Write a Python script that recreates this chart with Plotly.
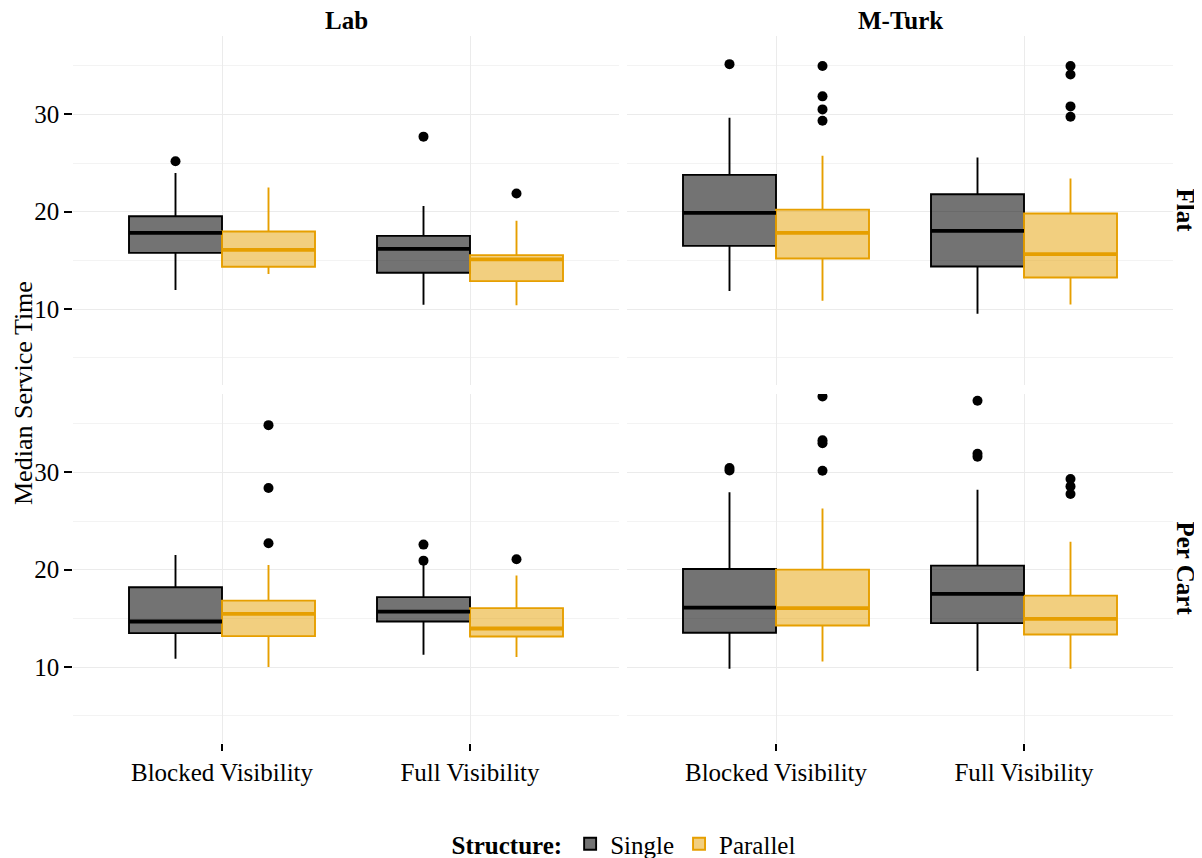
import plotly.graph_objects as go

# ---------------- data ----------------
sources = ["Lab", "M-Turk"]
layouts = ["Flat", "Per Cart"]
visibility = ["Blocked Visibility", "Full Visibility"]
groups = ["Single", "Parallel"]

# order of the 16 boxes: for each panel (Lab-Flat, M-Turk-Flat, Lab-Per Cart, M-Turk-Per Cart)
# -> Blocked/Single, Blocked/Parallel, Full/Single, Full/Parallel
box_source = ["Lab"] * 4 + ["M-Turk"] * 4 + ["Lab"] * 4 + ["M-Turk"] * 4
box_layout = ["Flat"] * 8 + ["Per Cart"] * 8
box_vis = ["Blocked Visibility", "Blocked Visibility", "Full Visibility", "Full Visibility"] * 4
box_group = ["Single", "Parallel"] * 8

lower_fence = [11.95, 13.59, 10.44, 10.38,
               11.85, 10.85, 9.52, 10.48,
               10.85, 10.00, 11.26, 11.03,
               9.83, 10.58, 9.59, 9.83]
q1 = [15.77, 14.34, 13.73, 12.87,
      16.49, 15.20, 14.38, 13.25,
      13.49, 13.18, 14.68, 13.14,
      13.52, 14.27, 14.51, 13.34]
median = [17.83, 16.08, 16.18, 15.10,
          19.88, 17.83, 18.03, 15.64,
          14.68, 15.47, 15.70, 13.96,
          16.11, 16.05, 17.52, 14.95]
q3 = [19.54, 17.97, 17.52, 15.54,
      23.78, 20.22, 21.79, 19.81,
      18.20, 16.83, 17.18, 16.05,
      20.08, 20.01, 20.42, 17.34]
upper_fence = [23.98, 22.48, 20.60, 19.06,
               29.66, 25.76, 25.56, 23.40,
               21.51, 20.49, 20.50, 19.40,
               27.95, 26.30, 28.22, 22.88]
outliers = [[25.18], [], [27.71], [21.87],
            [35.16], [29.35, 30.51, 31.85, 34.96], [], [29.76, 30.82, 34.10, 34.96],
            [], [22.72, 28.39, 34.85], [20.93, 22.58], [21.08],
            [30.20, 30.45], [30.17, 33.00, 33.30, 37.80], [31.60, 31.90, 37.35], [27.77, 28.56, 29.31]]

y_ticks = [10, 20, 30]
y_minor = [5, 15, 25, 35]

# ---------------- styling ----------------
FONT = "Liberation Serif"
FS = 25
line_col = {"Single": "#000000", "Parallel": "#E69F00"}
fill_col = {"Single": "rgba(0,0,0,0.55)", "Parallel": "rgba(230,159,0,0.5)"}
dodge = {"Single": -0.1875, "Parallel": 0.1875}
box_w = 0.375

# the page body has an 8px margin, so the figure is drawn 8px in from the window corner
OFF = 8
W, H = 1202 - OFF, 858 - OFF
def px_x(p):
    return (p - OFF) / W
def px_y(p):
    return 1 - (p - OFF) / H

col_dom = [[px_x(73.2), px_x(618.8)], [px_x(627.2), px_x(1172.8)]]
row_dom = [[px_y(385), px_y(36)], [px_y(743), px_y(394)]]

fig = go.Figure()

def axis_suffix(r, c):
    n = r * 2 + c + 1
    return "" if n == 1 else str(n)

legend_done = set()
for r, lay in enumerate(layouts):
    for c, src in enumerate(sources):
        suf = axis_suffix(r, c)
        for g in groups:
            idx = [i for i in range(16) if box_source[i] == src and box_layout[i] == lay and box_group[i] == g]
            xs = [visibility.index(box_vis[i]) + dodge[g] for i in idx]
            show = g not in legend_done
            legend_done.add(g)
            fig.add_trace(go.Box(
                x=xs,
                q1=[q1[i] for i in idx],
                median=[median[i] for i in idx],
                q3=[q3[i] for i in idx],
                lowerfence=[lower_fence[i] for i in idx],
                upperfence=[upper_fence[i] for i in idx],
                width=box_w, whiskerwidth=0,
                fillcolor=fill_col[g],
                line=dict(color=line_col[g], width=1.9),
                boxpoints=False,
                name=g, legendgroup=g, showlegend=show,
                xaxis="x" + suf, yaxis="y" + suf,
                hoverinfo="skip",
            ))
            # thicker median lines
            mx, my = [], []
            for i, x0 in zip(idx, xs):
                mx += [x0 - box_w / 2, x0 + box_w / 2, None]
                my += [median[i], median[i], None]
            fig.add_trace(go.Scatter(
                x=mx, y=my, mode="lines",
                line=dict(color=line_col[g], width=3.8),
                showlegend=False, legendgroup=g,
                xaxis="x" + suf, yaxis="y" + suf, hoverinfo="skip",
            ))
            # outliers
            ox, oy = [], []
            for i, x0 in zip(idx, xs):
                for v in outliers[i]:
                    ox.append(x0)
                    oy.append(v)
            if ox:
                fig.add_trace(go.Scatter(
                    x=ox, y=oy, mode="markers",
                    marker=dict(color="black", size=10, line=dict(width=0)),
                    showlegend=False, legendgroup=g,
                    xaxis="x" + suf, yaxis="y" + suf, hoverinfo="skip",
                ))

tickfont = dict(family=FONT, size=FS, color="black")
for r in range(2):
    for c in range(2):
        suf = axis_suffix(r, c)
        fig.layout["xaxis" + suf] = dict(
            domain=col_dom[c], anchor="y" + suf, automargin=False,
            range=[-0.6, 1.6], tickvals=[0, 1], ticktext=visibility,
            showgrid=True, gridcolor="#EBEBEB", gridwidth=1, zeroline=False,
            showline=False,
            ticks="outside" if r == 1 else "", ticklen=7, tickwidth=2, tickcolor="black",
            showticklabels=(r == 1), tickfont=tickfont,
        )
        fig.layout["yaxis" + suf] = dict(
            domain=row_dom[r], anchor="x" + suf, automargin=False,
            range=[2.2, 38.05], tickvals=y_ticks,
            showgrid=True, gridcolor="#EBEBEB", gridwidth=1, zeroline=False,
            showline=False,
            minor=dict(tickvals=y_minor, showgrid=True, gridcolor="#F3F3F3", gridwidth=1),
            ticks="outside" if c == 0 else "", ticklen=8, tickwidth=2, tickcolor="black",
            showticklabels=(c == 0), tickfont=tickfont,
        )

ann = []
for c, src in enumerate(sources):
    ann.append(dict(text="<b>%s</b>" % src, x=(col_dom[c][0] + col_dom[c][1]) / 2, y=px_y(20),
                    xref="paper", yref="paper", showarrow=False, xanchor="center", yanchor="middle",
                    font=dict(family=FONT, size=FS, color="black")))
for r, lay in enumerate(layouts):
    ann.append(dict(text="<b>%s</b>" % lay, x=px_x(1185), y=(row_dom[r][0] + row_dom[r][1]) / 2,
                    xref="paper", yref="paper", showarrow=False, textangle=90,
                    xanchor="center", yanchor="middle",
                    font=dict(family=FONT, size=FS, color="black")))
ann.append(dict(text="Median Service Time", x=px_x(24), y=px_y(393), xref="paper", yref="paper",
                showarrow=False, textangle=-90, xanchor="center", yanchor="middle",
                font=dict(family=FONT, size=26, color="black")))

fig.update_layout(
    width=W, height=H,
    margin=dict(l=0, r=0, t=0, b=0, autoexpand=False),
    paper_bgcolor="white", plot_bgcolor="white",
    boxmode="overlay",
    annotations=ann,
    showlegend=True,
    legend=dict(orientation="h", x=px_x(625), xanchor="center", y=px_y(844), yanchor="middle",
                title=dict(text="<b>Structure:</b>", side="left", font=dict(family=FONT, size=FS)),
                font=dict(family=FONT, size=FS, color="black"),
                itemwidth=30, tracegroupgap=0, bgcolor="rgba(0,0,0,0)"),
    font=dict(family=FONT, size=FS, color="black"),
)

fig.write_html("out.html")
